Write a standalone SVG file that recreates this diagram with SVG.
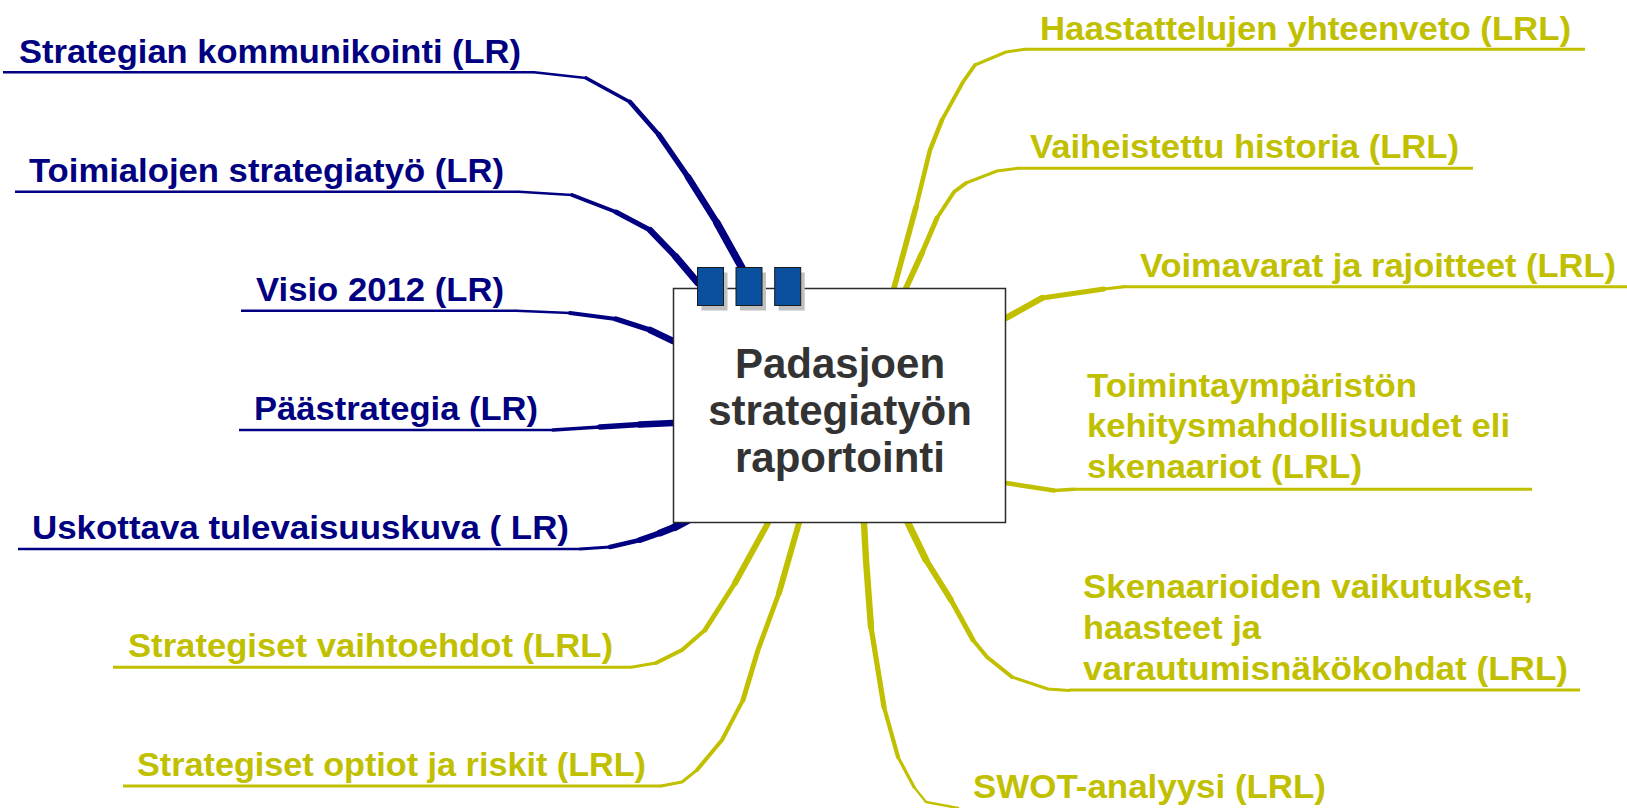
<svg xmlns="http://www.w3.org/2000/svg" width="1627" height="808" viewBox="0 0 1627 808">
<style>
.nv{stroke:#000080;fill:none;stroke-linecap:round;stroke-linejoin:round}
.ol{stroke:#C0C000;fill:none;stroke-linecap:round;stroke-linejoin:round}
.ul{stroke-linecap:butt}
.lb{font-family:"Liberation Sans",Arial,sans-serif;font-weight:bold;font-size:34px}
.tn{fill:#000080}
.to{fill:#C0C000}
.title{font-family:"Liberation Sans",Arial,sans-serif;font-weight:bold;font-size:42px;fill:#333333;text-anchor:middle}
.tab{fill:#0B4F9F;stroke:#1a1a1a;stroke-width:1}
.tsh{fill:#c0c0c0}
</style>
<rect width="1627" height="808" fill="#ffffff"/>
<g id="connectors">
  <!-- Strategian kommunikointi -->
  <path class="nv ul" stroke-width="2.6" d="M3 72.3H534"/>
  <path class="nv" stroke-width="2.6" d="M534 72.3L586 78"/>
  <path class="nv" stroke-width="3.6" d="M586 78L630 102"/>
  <path class="nv" stroke-width="4.6" d="M630 102L659 135"/>
  <path class="nv" stroke-width="5.6" d="M659 135L688 177"/>
  <path class="nv" stroke-width="6.6" d="M688 177L717 223"/>
  <path class="nv" stroke-width="7.6" d="M717 223L742 268"/>
  <!-- Toimialojen strategiatyö -->
  <path class="nv ul" stroke-width="2.6" d="M15 191.7H519"/>
  <path class="nv" stroke-width="2.6" d="M519 191.7L572 195"/>
  <path class="nv" stroke-width="3.8" d="M572 195L616 212"/>
  <path class="nv" stroke-width="5" d="M616 212L650 230"/>
  <path class="nv" stroke-width="6.2" d="M650 230L676 257"/>
  <path class="nv" stroke-width="7.2" d="M676 257L698 283"/>
  <!-- Visio 2012 -->
  <path class="nv ul" stroke-width="2.6" d="M241 310.7H516"/>
  <path class="nv" stroke-width="2.6" d="M516 310.7L570 313"/>
  <path class="nv" stroke-width="4" d="M570 313L616 319"/>
  <path class="nv" stroke-width="5.5" d="M616 319L650 330"/>
  <path class="nv" stroke-width="6.5" d="M650 330L673 341"/>
  <!-- Päästrategia -->
  <path class="nv ul" stroke-width="2.6" d="M239 430H553"/>
  <path class="nv" stroke-width="3.5" d="M553 430L600 427"/>
  <path class="nv" stroke-width="5.5" d="M600 427L640 424.5"/>
  <path class="nv" stroke-width="6.5" d="M640 424.5L673 423"/>
  <!-- Uskottava tulevaisuuskuva -->
  <path class="nv ul" stroke-width="2.6" d="M18 549H580"/>
  <path class="nv" stroke-width="3" d="M580 549L610 547"/>
  <path class="nv" stroke-width="4.5" d="M610 547L640 540"/>
  <path class="nv" stroke-width="6" d="M640 540L660 533"/>
  <path class="nv" stroke-width="7" d="M660 533L675 527"/>
  <path class="nv" stroke-width="8" d="M675 527L688 520"/>

  <!-- Haastattelujen yhteenveto -->
  <path class="ol ul" stroke-width="3" d="M1025 49.3H1585"/>
  <path class="ol" stroke-width="3" d="M1025 49.3L1006 52L975 65"/>
  <path class="ol" stroke-width="3.8" d="M975 65L963 82L942 120"/>
  <path class="ol" stroke-width="4.6" d="M942 120L930 150L916 207"/>
  <path class="ol" stroke-width="5.6" d="M916 207L894 288"/>
  <!-- Vaiheistettu historia -->
  <path class="ol ul" stroke-width="3" d="M1018 168.3H1473"/>
  <path class="ol" stroke-width="3" d="M1018 168.3L997 171L966 183"/>
  <path class="ol" stroke-width="4" d="M966 183L954 192L937 218"/>
  <path class="ol" stroke-width="5" d="M937 218L922 253"/>
  <path class="ol" stroke-width="5.8" d="M922 253L906 288"/>
  <!-- Voimavarat ja rajoitteet -->
  <path class="ol ul" stroke-width="3" d="M1125 286.7H1627"/>
  <path class="ol" stroke-width="3.2" d="M1125 286.7L1104 289"/>
  <path class="ol" stroke-width="4.8" d="M1104 289L1042 298"/>
  <path class="ol" stroke-width="6.2" d="M1042 298L1006 318"/>
  <!-- Toimintaympäristön -->
  <path class="ol ul" stroke-width="3" d="M1074 489.3H1532"/>
  <path class="ol" stroke-width="3.4" d="M1074 489.3L1054 490.5"/>
  <path class="ol" stroke-width="4.6" d="M1054 490.5L1006 483"/>
  <!-- Skenaarioiden vaikutukset -->
  <path class="ol ul" stroke-width="3" d="M1069 690H1580"/>
  <path class="ol" stroke-width="3" d="M1069 690.5L1048 689L1012 677"/>
  <path class="ol" stroke-width="4" d="M1012 677L987 657L973 640"/>
  <path class="ol" stroke-width="5" d="M973 640L951 600"/>
  <path class="ol" stroke-width="6" d="M951 600L926 560"/>
  <path class="ol" stroke-width="7" d="M926 560L908 523"/>
  <!-- SWOT-analyysi -->
  <path class="ol" stroke-width="2.4" d="M958 808L926 802L914 787"/>
  <path class="ol" stroke-width="3.2" d="M914 787L898 757"/>
  <path class="ol" stroke-width="4.2" d="M898 757L884 707"/>
  <path class="ol" stroke-width="5.2" d="M884 707L871 627"/>
  <path class="ol" stroke-width="6.4" d="M871 627L866 560L864 523"/>
  <!-- Strategiset vaihtoehdot -->
  <path class="ol ul" stroke-width="3" d="M113 667.3H631"/>
  <path class="ol" stroke-width="3" d="M631 667.3L656 663"/>
  <path class="ol" stroke-width="4" d="M656 663L682 650L705 630"/>
  <path class="ol" stroke-width="5" d="M705 630L735 583"/>
  <path class="ol" stroke-width="6" d="M735 583L768 523"/>
  <!-- Strategiset optiot ja riskit -->
  <path class="ol ul" stroke-width="3" d="M123 786H661"/>
  <path class="ol" stroke-width="3" d="M661 786L682 782L697 770"/>
  <path class="ol" stroke-width="4" d="M697 770L722 740L743 700"/>
  <path class="ol" stroke-width="5" d="M743 700L758 650L779 593"/>
  <path class="ol" stroke-width="6" d="M779 593L799 523"/>
</g>

<g id="center">
  <rect x="673.5" y="288.5" width="332" height="234" fill="#ffffff" stroke="#2b2b2b" stroke-width="1.5"/>
  <rect class="tsh" x="701.5" y="272.5" width="26" height="38"/>
  <rect class="tsh" x="740" y="272.5" width="26" height="38"/>
  <rect class="tsh" x="778.7" y="272.5" width="26" height="38"/>
  <rect class="tab" x="697.5" y="267.5" width="26" height="38"/>
  <rect class="tab" x="736" y="267.5" width="26" height="38"/>
  <rect class="tab" x="774.7" y="267.5" width="26" height="38"/>
  <text class="title" x="840" y="378">Padasjoen</text>
  <text class="title" x="840" y="425">strategiatyön</text>
  <text class="title" x="840" y="472">raportointi</text>
</g>

<g id="n-strategian"><text class="lb tn" x="19" y="62.7" textLength="502" lengthAdjust="spacingAndGlyphs">Strategian kommunikointi (LR)</text></g>
<g id="n-toimialojen"><text class="lb tn" x="29" y="181.7" textLength="475" lengthAdjust="spacingAndGlyphs">Toimialojen strategiatyö (LR)</text></g>
<g id="n-visio"><text class="lb tn" x="256" y="300.5" textLength="248" lengthAdjust="spacingAndGlyphs">Visio 2012 (LR)</text></g>
<g id="n-paastrategia"><text class="lb tn" x="254" y="420" textLength="284" lengthAdjust="spacingAndGlyphs">Päästrategia (LR)</text></g>
<g id="n-uskottava"><text class="lb tn" x="32" y="538.5" textLength="537" lengthAdjust="spacingAndGlyphs">Uskottava tulevaisuuskuva ( LR)</text></g>

<g id="n-haastattelujen"><text class="lb to" x="1040" y="40" textLength="531" lengthAdjust="spacingAndGlyphs">Haastattelujen yhteenveto (LRL)</text></g>
<g id="n-vaiheistettu"><text class="lb to" x="1030" y="158" textLength="429" lengthAdjust="spacingAndGlyphs">Vaiheistettu historia (LRL)</text></g>
<g id="n-voimavarat"><text class="lb to" x="1140" y="277" textLength="476" lengthAdjust="spacingAndGlyphs">Voimavarat ja rajoitteet (LRL)</text></g>
<g id="n-toimintaymparisto">
  <text class="lb to" x="1087" y="396.7" textLength="330" lengthAdjust="spacingAndGlyphs">Toimintaympäristön</text>
  <text class="lb to" x="1087" y="437.3" textLength="423" lengthAdjust="spacingAndGlyphs">kehitysmahdollisuudet eli</text>
  <text class="lb to" x="1087" y="477.5" textLength="275" lengthAdjust="spacingAndGlyphs">skenaariot (LRL)</text>
</g>
<g id="n-skenaarioiden">
  <text class="lb to" x="1083" y="598.3" textLength="450" lengthAdjust="spacingAndGlyphs">Skenaarioiden vaikutukset,</text>
  <text class="lb to" x="1083" y="638.5" textLength="178" lengthAdjust="spacingAndGlyphs">haasteet ja</text>
  <text class="lb to" x="1083" y="680" textLength="485" lengthAdjust="spacingAndGlyphs">varautumisnäkökohdat (LRL)</text>
</g>
<g id="n-swot"><text class="lb to" x="973" y="798" textLength="353" lengthAdjust="spacingAndGlyphs">SWOT-analyysi (LRL)</text></g>
<g id="n-vaihtoehdot"><text class="lb to" x="128" y="656.7" textLength="485" lengthAdjust="spacingAndGlyphs">Strategiset vaihtoehdot (LRL)</text></g>
<g id="n-optiot"><text class="lb to" x="137" y="776" textLength="509" lengthAdjust="spacingAndGlyphs">Strategiset optiot ja riskit (LRL)</text></g>
</svg>
